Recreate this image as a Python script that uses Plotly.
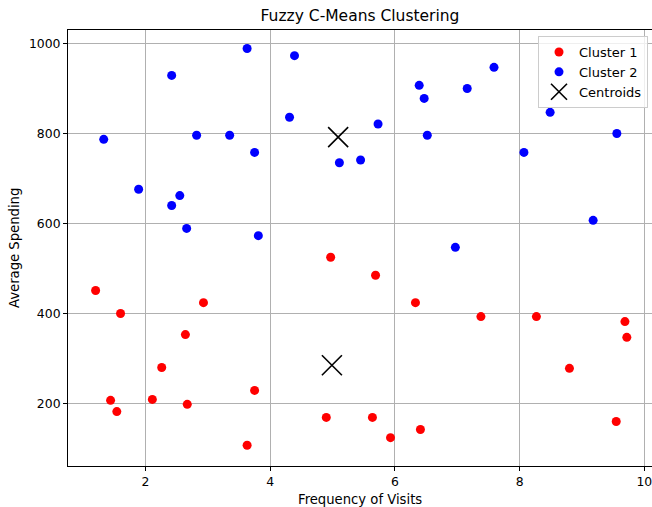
import plotly.graph_objects as go

# Cluster 1 (red)
c1_visits = [1.20, 1.60, 1.44, 1.54, 2.26, 2.11, 2.64, 2.93, 2.67, 3.75, 3.63, 4.97, 4.90, 5.69,
             5.64, 5.93, 6.33, 6.41, 7.38, 8.27, 8.80, 9.55, 9.69, 9.72]
c1_spend = [451, 400, 207, 182, 280, 209, 353, 424, 198, 229, 107, 525, 169, 485,
            169, 124, 424, 142, 393, 393, 278, 160, 382, 347]

# Cluster 2 (blue)
c2_visits = [1.33, 1.89, 2.42, 2.55, 2.66, 2.42, 2.82, 3.35, 3.63, 3.75, 3.81, 4.31, 4.39,
             5.11, 5.45, 5.73, 6.39, 6.47, 6.52, 6.97, 7.16, 7.59, 8.07, 8.49, 9.18, 9.56]
c2_spend = [787, 676, 640, 662, 589, 929, 796, 796, 989, 758, 573, 836, 973,
            735, 741, 821, 907, 878, 796, 547, 900, 947, 758, 847, 607, 800]

# Centroids
cent_visits = [5.09, 4.99]
cent_spend = [792, 285]

x_ticks = [2, 4, 6, 8, 10]
y_ticks = [200, 400, 600, 800, 1000]

font = "DejaVu Sans"
EXTRA = 20  # figure runs past the window's right edge, cropped like the reference
W, H = 652 + EXTRA, 507
L, R, T, B = 68, EXTRA, 30, 41
pw, ph = W - L - R, H - T - B

fig = go.Figure()
fig.add_trace(go.Scatter(x=c1_visits, y=c1_spend, mode="markers", name="Cluster 1",
                         marker=dict(color="red", size=9)))
fig.add_trace(go.Scatter(x=c2_visits, y=c2_spend, mode="markers", name="Cluster 2",
                         marker=dict(color="blue", size=9)))
fig.add_trace(go.Scatter(x=cent_visits, y=cent_spend, mode="markers", name="Centroids",
                         marker=dict(symbol="x-thin", size=20, color="black",
                                     line=dict(color="black", width=1.6))))

fig.update_layout(
    width=W, height=H,
    margin=dict(l=L, r=R, t=T, b=B, autoexpand=False),
    paper_bgcolor="white", plot_bgcolor="white",
    font=dict(family=font, size=12, color="black"),
    title=dict(text="Fuzzy C-Means Clustering", x=0.5, xref="paper", xanchor="center",
               y=1 - 16 / H, yanchor="middle", font=dict(size=15.5, family=font)),
    legend=dict(x=(648 - L) / pw, y=(ph - (36 - T)) / ph, xanchor="right", yanchor="top",
                bgcolor="rgba(255,255,255,0.8)", bordercolor="#cccccc", borderwidth=1,
                font=dict(size=13, family=font), itemwidth=30,
                tracegroupgap=0),
    showlegend=True,
    annotations=[
        dict(text="Frequency of Visits", xref="paper", yref="paper", x=0.5,
             y=-(499 - (T + ph)) / ph, xanchor="center", yanchor="middle",
             showarrow=False, font=dict(size=13.2, family=font)),
        dict(text="Average Spending", xref="paper", yref="paper",
             x=-(L - 14) / pw, y=0.5, xanchor="center", yanchor="middle",
             textangle=-90, showarrow=False, font=dict(size=13.2, family=font)),
    ],
)
fig.update_xaxes(range=[0.757, 10.124], tickvals=x_ticks, ticktext=[str(v) for v in x_ticks],
                 automargin=False, ticklabeloverflow="allow",
                 showgrid=True, gridcolor="#b0b0b0", gridwidth=1, zeroline=False,
                 showline=True, linecolor="black", linewidth=1, mirror=True,
                 ticks="outside", ticklen=4, tickcolor="black",
                 tickfont=dict(size=12.4, family=font))
fig.update_yaxes(range=[61, 1030], tickvals=y_ticks, ticktext=[str(v) for v in y_ticks],
                 automargin=False,
                 showgrid=True, gridcolor="#b0b0b0", gridwidth=1, zeroline=False,
                 showline=True, linecolor="black", linewidth=1, mirror=False,
                 ticks="outside", ticklen=4, tickcolor="black",
                 tickfont=dict(size=12.4, family=font))

fig.write_html(
    "out.html",
    config={"displayModeBar": False},
    post_script="document.documentElement.style.overflow='hidden';"
                "document.body.style.margin='0';document.body.style.overflow='hidden';",
)
